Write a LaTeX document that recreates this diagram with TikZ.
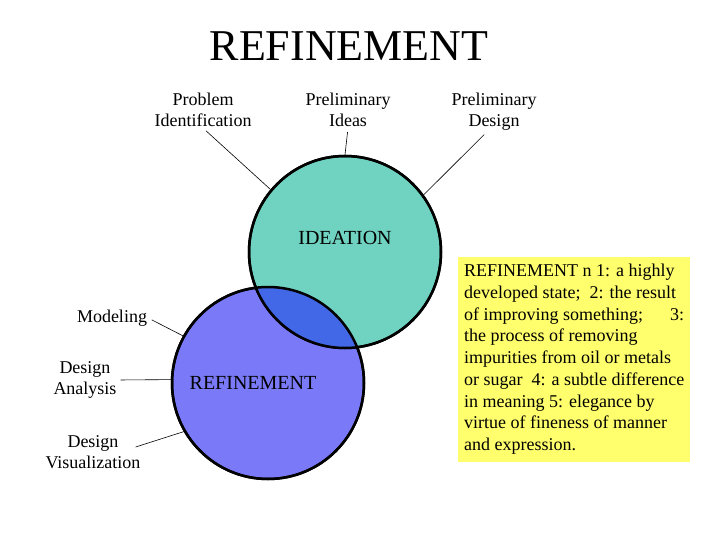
\documentclass[tikz,border=0pt]{standalone}
\usepackage{fontspec}
\setmainfont{Liberation Serif}
\usetikzlibrary{positioning}
\definecolor{ideateal}{RGB}{112,210,192}
\definecolor{refblue}{RGB}{122,122,248}
\definecolor{overlapblue}{RGB}{66,104,232}
\definecolor{notepad}{RGB}{255,255,110}
\tikzset{
  sidelabel/.style={align=center, font=\fontsize{18}{21}\selectfont, inner sep=1pt},
  bigcircle/.style={circle, draw=black, line width=2.5pt, minimum size=192pt, inner sep=0pt},
  inlabel/.style={font=\fontsize{20}{24}\selectfont},
  leader/.style={line width=0.6pt}
}

\begin{document}
\begin{tikzpicture}[x=1pt, y=-1pt]
  \useasboundingbox (0,0) rectangle (720,540);
  % title
  \node[font=\fontsize{44}{50}\selectfont] (title) at (349,46) {REFINEMENT};

  % the two circles and their overlap
  \node[bigcircle, fill=refblue] (refine) at (268,383) {};
  \node[bigcircle, fill=ideateal] (idea) at (345,252) {};
  \begin{scope}
    \clip (refine.center) circle (96pt);
    \fill[overlapblue] (idea.center) circle (96pt);
  \end{scope}
  \draw[line width=2.5pt] (refine.center) circle (96pt) (idea.center) circle (96pt);

  \node[inlabel] (idealabel) at (345,238) {IDEATION};
  \node[inlabel] (refinelabel) at (253,383) {REFINEMENT};

  % labels round the circles
  \node[sidelabel, anchor=north] (probid) at (203,92) {Problem\\Identification};
  \node[sidelabel, anchor=north] (prideas) at (348,92) {Preliminary\\Ideas};
  \node[sidelabel, anchor=north] (prdesign) at (494,92) {Preliminary\\Design};
  \node[sidelabel] (modeling) at (112,318) {Modeling};
  \node[sidelabel] (analysis) at (85,380) {Design\\Analysis};
  \node[sidelabel] (visual) at (93,452) {Design\\Visualization};

  \draw[leader, shorten <=4pt] (probid.south) -- (idea.140);
  \draw[leader, shorten <=4pt] (prideas.south) -- (idea.north);
  \draw[leader, shorten <=4pt] ([xshift=-7pt]prdesign.south) -- (idea.36);
  \draw[leader, shorten <=4pt] (modeling.east) -- (refine.151);
  \draw[leader, shorten <=3pt] (analysis.east) -- (refine.178);
  \draw[leader] ([shift={(-6,-5)}]visual.east) -- (refine.210);

  % definition box
  \node[fill=notepad, anchor=north west, minimum width=232pt, minimum height=203pt,
        inner xsep=5pt, inner ysep=7pt, align=left,
        font=\fontsize{18}{21.75}\selectfont] (note) at (458,257)
    {REFINEMENT n 1: a highly\\
     developed state;\ \ 2: the result\\
     of improving something;\hspace{1.5em}3:\\
     the process of removing\\
     impurities from oil or metals\\
     or sugar\ \ 4: a subtle difference\\
     in meaning 5: elegance by\\
     virtue of fineness of manner\\
     and expression.};
\end{tikzpicture}
\end{document}
